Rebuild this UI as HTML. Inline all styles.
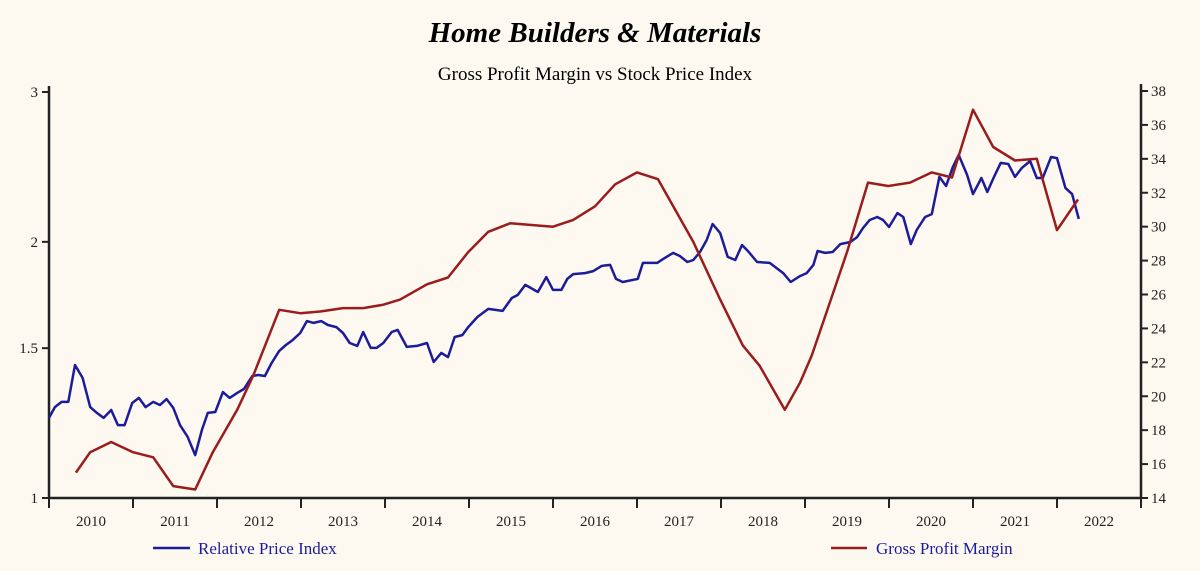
<!DOCTYPE html>
<html><head><meta charset="utf-8"><style>
html,body{margin:0;padding:0;background:#fdf9f1;}
svg{display:block;font-family:"Liberation Serif",serif;}
</style></head><body>
<svg id="chart" width="1200" height="571" xmlns="http://www.w3.org/2000/svg">
<rect width="1200" height="571" fill="#fdf9f1"/>
<text x="595" y="42" text-anchor="middle" font-size="29" font-weight="bold" font-style="italic" fill="#000">Home Builders &amp; Materials</text>
<text x="595" y="80" text-anchor="middle" font-size="19" fill="#000">Gross Profit Margin vs Stock Price Index</text>
<g id="axes"></g>
<g id="series"></g>
<g>
<line x1="153" y1="548" x2="190" y2="548" stroke="#1c1c9a" stroke-width="2.5"/>
<text x="198" y="554" font-size="17" fill="#1c1c9a">Relative Price Index</text>
<line x1="831" y1="548" x2="867" y2="548" stroke="#9b1c1c" stroke-width="2.5"/>
<text x="876" y="554" font-size="17" fill="#1c1c9a">Gross Profit Margin</text>
</g>
</svg>
<script>
const yearLabels=[2010,2011,2012,2013,2014,2015,2016,2017,2018,2019,2020,2021,2022];
const leftTicks=[1,1.5,2,3];
const rightTicks=[14,16,18,20,22,24,26,28,30,32,34,36,38];
const priceDates=[2010.00,2010.07,2010.15,2010.23,2010.31,2010.40,2010.49,2010.57,2010.65,2010.74,2010.82,2010.90,2010.99,2011.07,2011.15,2011.24,2011.32,2011.40,2011.48,2011.56,2011.65,2011.74,2011.82,2011.89,2011.98,2012.07,2012.15,2012.24,2012.32,2012.42,2012.49,2012.57,2012.65,2012.74,2012.82,2012.90,2012.99,2013.07,2013.15,2013.24,2013.32,2013.42,2013.50,2013.58,2013.67,2013.74,2013.83,2013.90,2013.98,2014.08,2014.15,2014.26,2014.38,2014.50,2014.58,2014.67,2014.75,2014.83,2014.92,2014.99,2015.10,2015.23,2015.40,2015.51,2015.58,2015.67,2015.82,2015.92,2016.00,2016.10,2016.17,2016.24,2016.38,2016.48,2016.58,2016.68,2016.75,2016.83,2017.01,2017.07,2017.24,2017.31,2017.43,2017.51,2017.60,2017.67,2017.75,2017.83,2017.90,2017.99,2018.08,2018.17,2018.25,2018.32,2018.43,2018.58,2018.74,2018.83,2018.94,2019.02,2019.10,2019.15,2019.24,2019.33,2019.42,2019.54,2019.62,2019.69,2019.77,2019.86,2019.93,2020.00,2020.10,2020.17,2020.26,2020.33,2020.43,2020.51,2020.60,2020.68,2020.76,2020.83,2020.93,2021.00,2021.10,2021.17,2021.25,2021.33,2021.42,2021.50,2021.58,2021.68,2021.76,2021.83,2021.93,2022.00,2022.10,2022.18,2022.26];
const priceValues=[1.242,1.279,1.297,1.297,1.433,1.384,1.279,1.259,1.242,1.269,1.218,1.218,1.293,1.311,1.279,1.297,1.286,1.307,1.276,1.218,1.180,1.123,1.202,1.259,1.262,1.332,1.311,1.329,1.343,1.391,1.395,1.391,1.441,1.489,1.513,1.533,1.563,1.614,1.606,1.614,1.597,1.588,1.563,1.521,1.509,1.567,1.501,1.501,1.521,1.567,1.576,1.505,1.509,1.521,1.445,1.481,1.464,1.546,1.554,1.588,1.632,1.668,1.659,1.718,1.732,1.780,1.746,1.818,1.756,1.756,1.809,1.833,1.838,1.848,1.874,1.879,1.809,1.794,1.809,1.889,1.889,1.909,1.941,1.925,1.894,1.904,1.946,2.010,2.099,2.048,1.920,1.904,1.983,1.951,1.894,1.889,1.838,1.794,1.823,1.838,1.879,1.951,1.941,1.946,1.988,1.999,2.026,2.076,2.122,2.139,2.122,2.082,2.162,2.139,1.988,2.065,2.139,2.156,2.384,2.326,2.449,2.530,2.397,2.276,2.377,2.289,2.384,2.476,2.469,2.384,2.442,2.489,2.377,2.377,2.516,2.509,2.314,2.276,2.128];
const marginDates=[2010.32,2010.49,2010.74,2011.00,2011.24,2011.48,2011.74,2011.95,2012.24,2012.43,2012.74,2012.99,2013.23,2013.50,2013.74,2013.98,2014.18,2014.50,2014.75,2014.99,2015.23,2015.49,2016.00,2016.24,2016.50,2016.74,2017.00,2017.25,2017.67,2017.99,2018.26,2018.46,2018.76,2018.94,2019.08,2019.26,2019.50,2019.75,2019.99,2020.25,2020.51,2020.75,2021.00,2021.24,2021.50,2021.76,2022.00,2022.25];
const marginValues=[15.5,16.7,17.3,16.7,16.4,14.7,14.5,16.7,19.2,21.2,25.1,24.9,25.0,25.2,25.2,25.4,25.7,26.6,27.0,28.5,29.7,30.2,30.0,30.4,31.2,32.5,33.2,32.8,29.1,25.7,23.0,21.8,19.2,20.8,22.4,25.0,28.5,32.6,32.4,32.6,33.2,32.9,36.9,34.7,33.9,34.0,29.8,31.6];

const NS="http://www.w3.org/2000/svg";
const X0=49,X1=1141,Y0=498,YT=92;
const xScale=d=>X0+(d-2010)/13*(X1-X0);
const yLeft=v=>Y0-(Y0-YT)*Math.log(v)/Math.log(3);
const yRight=v=>Y0-(v-14)/24*(Y0-YT+1);
function mk(tag,attrs,parent){const e=document.createElementNS(NS,tag);for(const k in attrs)e.setAttribute(k,attrs[k]);parent.appendChild(e);return e;}
const axes=document.getElementById('axes');
const series=document.getElementById('series');
let e;
e=mk('line',{x1:X0,y1:86,x2:X0,y2:Y0+1,stroke:'#222','stroke-width':2.5},axes);


e=mk('line',{x1:X1,y1:84,x2:X1,y2:Y0+1,stroke:'#222','stroke-width':2.5},axes);


e=mk('line',{x1:X0-1,y1:Y0,x2:X1+1,y2:Y0,stroke:'#222','stroke-width':2.5},axes);


leftTicks.forEach(v=>{const y=yLeft(v);
 e=mk('line',{x1:X0-7,y1:y,x2:X0,y2:y,stroke:'#222','stroke-width':2},axes);
 
 
 e=mk('text',{x:X0-11,y:y+5,'text-anchor':'end','font-size':15,fill:'#222'},axes);e.textContent=v;
 
 
});
rightTicks.forEach(v=>{const y=yRight(v);
 e=mk('line',{x1:X1,y1:y,x2:X1+7,y2:y,stroke:'#222','stroke-width':2},axes);
 
 
 e=mk('text',{x:X1+10,y:y+5,'font-size':15,fill:'#222'},axes);e.textContent=v;
 
 
});
for(let yr=2010;yr<=2023;yr++){const x=xScale(yr);
 e=mk('line',{x1:x,y1:Y0,x2:x,y2:Y0+10,stroke:'#222','stroke-width':2},axes);
 
 
}
yearLabels.forEach(yr=>{
 e=mk('text',{x:xScale(yr+0.5),y:Y0+28,'text-anchor':'middle','font-size':15,fill:'#222'},axes);e.textContent=yr;
 
 
});
let d=priceDates.map((t,i)=>(i?'L':'M')+xScale(t).toFixed(1)+','+yLeft(priceValues[i]).toFixed(1)).join('');
e=mk('path',{d:d,fill:'none',stroke:'#1c1c9a','stroke-width':2.5,'stroke-linejoin':'round'},series);


d=marginDates.map((t,i)=>(i?'L':'M')+xScale(t).toFixed(1)+','+yRight(marginValues[i]).toFixed(1)).join('');
e=mk('path',{d:d,fill:'none',stroke:'#9b1c1c','stroke-width':2.5,'stroke-linejoin':'round'},series);


</script>
</body></html>
